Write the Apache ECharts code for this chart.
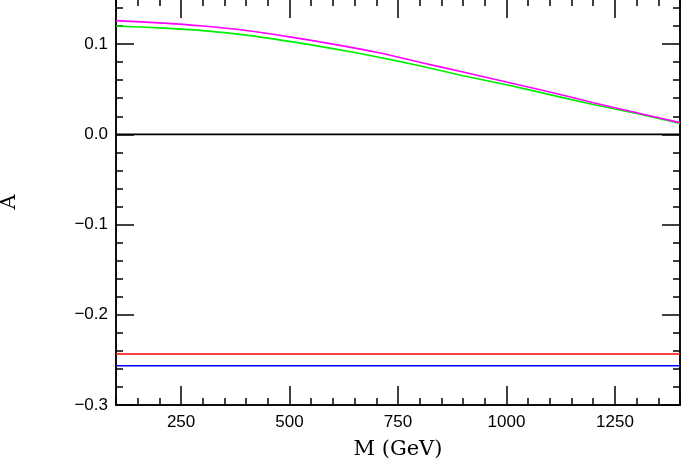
<!DOCTYPE html>
<html>
<head>
<meta charset="utf-8">
<script src="https://cdn.jsdelivr.net/npm/echarts@6/dist/echarts.min.js"></script>
<style>
  html, body { margin: 0; padding: 0; background: #fff; }
  #chart { width: 682px; height: 463px; }
</style>
</head>
<body>
<div id="chart"></div>
<script>
// data
const massGeV = [100, 200, 300, 400, 500, 600, 700, 800, 900, 1000, 1100, 1200, 1300, 1400]
const magentaA = [0.126, 0.1235, 0.120, 0.115, 0.108, 0.100, 0.091, 0.080, 0.069, 0.058, 0.047, 0.035, 0.024, 0.013]
const greenA = [0.120, 0.118, 0.115, 0.110, 0.103, 0.095, 0.086, 0.076, 0.065, 0.055, 0.044, 0.033, 0.023, 0.012]
const zeroA = [0, 0]
const redA = [-0.2435, -0.2435]
const blueA = [-0.2565, -0.2565]
const flatX = [100, 1400]
const xMajorTicks = [250, 500, 750, 1000, 1250]
const yMajorTicks = [-0.3, -0.2, -0.1, 0.0, 0.1]

const zip = (xs, ys) => xs.map((x, i) => [x, ys[i]])

const chart = echarts.init(document.getElementById('chart'))

const axisLine = { show: true, onZero: false, lineStyle: { color: '#000', width: 1.5 } }
const tickFont = { color: '#000', fontFamily: 'Liberation Sans', fontSize: 17 }

// x axes: major ticks + labels, minor ticks, on bottom and top
const xBase = { type: 'value', min: 100, max: 1400, splitLine: { show: false }, axisLine }
const xMajor = (position, labels) => ({
  ...xBase,
  position,
  axisTick: { inside: true, length: 19, customValues: xMajorTicks, lineStyle: { color: '#000', width: 1.5 } },
  axisLabel: { show: labels, customValues: xMajorTicks, margin: 9, ...tickFont, formatter: v => String(v) }
})
const xMinor = (position) => ({
  ...xBase,
  position,
  interval: 50,
  axisTick: { inside: true, length: 7, lineStyle: { color: '#000', width: 1.5 } },
  axisLabel: { show: false }
})

const yBase = { type: 'value', min: -0.3, max: 0.15, splitLine: { show: false }, axisLine }
const yMajor = (position, labels) => ({
  ...yBase,
  position,
  axisTick: { inside: true, length: 18, customValues: yMajorTicks, lineStyle: { color: '#000', width: 1.5 } },
  axisLabel: {
    show: labels,
    customValues: yMajorTicks,
    margin: 8,
    ...tickFont,
    formatter: v => (v < -1e-9 ? '\u2212' : '') + Math.abs(v).toFixed(1)
  }
})
const yMinor = (position) => ({
  ...yBase,
  position,
  interval: 0.02,
  axisTick: { inside: true, length: 7, lineStyle: { color: '#000', width: 1.5 } },
  axisLabel: { show: false }
})

const lineSeries = (data, color, smooth) => ({
  type: 'line',
  data,
  showSymbol: false,
  symbol: 'none',
  smooth,
  lineStyle: { color, width: 1.6 },
  xAxisIndex: 0,
  yAxisIndex: 0
})

const option = {
  animation: false,
  backgroundColor: '#fff',
  grid: { left: 116, right: 2, top: -1, bottom: 58, outerBoundsMode: 'none' },
  xAxis: [
    {
      ...xMajor('bottom', true),
      name: 'M (GeV)',
      nameLocation: 'middle',
      nameGap: 34,
      nameTextStyle: { color: '#000', fontFamily: 'DejaVu Serif', fontSize: 21 }
    },
    xMinor('bottom'),
    xMajor('top', false),
    xMinor('top')
  ],
  yAxis: [
    {
      ...yMajor('left', true),
      name: 'A',
      nameLocation: 'middle',
      nameRotate: 90,
      nameGap: 96,
      nameTextStyle: { color: '#000', fontFamily: 'DejaVu Serif', fontSize: 21 }
    },
    yMinor('left'),
    yMajor('right', false),
    yMinor('right')
  ],
  series: [
    lineSeries(zip(flatX, zeroA), '#000000', false),
    lineSeries(zip(flatX, redA), '#ff0000', false),
    lineSeries(zip(flatX, blueA), '#0000ff', false),
    lineSeries(zip(massGeV, greenA), '#00ee00', 0.3),
    lineSeries(zip(massGeV, magentaA), '#ff00ff', 0.3)
  ]
}

chart.setOption(option)
</script>
</body>
</html>
